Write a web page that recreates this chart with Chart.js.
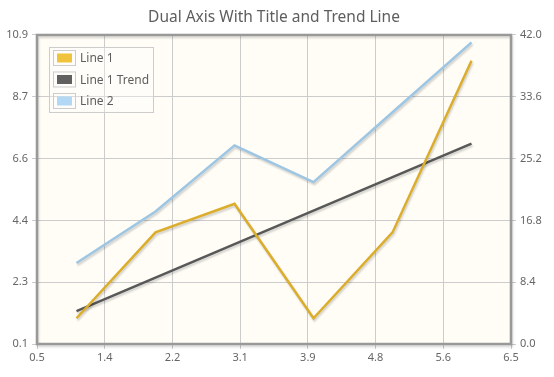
<!DOCTYPE html>
<html>
<head>
<meta charset="utf-8">
<script src="https://cdn.jsdelivr.net/npm/chart.js@4"></script>
<style>
  html, body { margin: 0; padding: 0; background: #fff; }
  #wrap { width: 554px; height: 377px; }
</style>
</head>
<body>
<div id="wrap"><canvas id="c" width="554" height="377"></canvas></div>
<script>
const xValues     = [1, 2, 3, 4, 5, 6]
const line1       = [1, 4, 5, 1, 4, 10]
const line1Trend  = [1.25, 2.42, 3.59, 4.76, 5.93, 7.1]
const line2       = [11, 18, 27, 22, 31.5, 41]

const xTickLabels     = ['0.5', '1.4', '2.2', '3.1', '3.9', '4.8', '5.6', '6.5']
const leftTickLabels  = ['0.1', '2.3', '4.4', '6.6', '8.7', '10.9']
const rightTickLabels = ['0.0', '8.4', '16.8', '25.2', '33.6', '42.0']

const FONT = "'Noto Sans', 'DejaVu Sans', sans-serif"
const GRID = '#cccccc'
const TEXT = '#666666'

const COLORS = {
  line1: { line: '#dcad2a', swatch: '#efc33b' },
  trend: { line: '#585858', swatch: '#606060' },
  line2: { line: '#9cc6e4', swatch: '#b2d8f6' },
}

const toPoints = ys => ys.map((y, i) => ({ x: xValues[i], y }))

// evenly spaced ticks with the labels
function evenTicks(labels) {
  return scale => {
    const n = labels.length
    scale.ticks = labels.map((_, i) => ({ value: scale.min + i * (scale.max - scale.min) / (n - 1) }))
  }
}
const labelAt = labels => (v, i) => labels[i]

const plotStyle = {
  id: 'plotStyle',
  beforeDraw(chart) {
    const { ctx, chartArea: a } = chart
    ctx.save()
    ctx.fillStyle = '#fffdf6'
    ctx.fillRect(a.left, a.top, a.width, a.height)
    ctx.restore()
  },
  beforeDatasetsDraw(chart) {
    const ctx = chart.ctx
    ctx.save()
    ctx.shadowColor = 'rgba(0,0,0,0.18)'
    ctx.shadowOffsetX = 1
    ctx.shadowOffsetY = 2
    ctx.shadowBlur = 2
  },
  afterDatasetsDraw(chart) {
    chart.ctx.restore()
  },
  afterDraw(chart) {
    const { ctx, chartArea: a } = chart
    // frame
    ctx.save()
    ctx.shadowColor = 'rgba(0,0,0,0.15)'
    ctx.shadowOffsetX = 1
    ctx.shadowOffsetY = 2
    ctx.shadowBlur = 2
    ctx.strokeStyle = '#999999'
    ctx.lineWidth = 2.5
    ctx.strokeRect(a.left, a.top, a.width, a.height)
    ctx.restore()

    // legend box
    const lx = a.left + 12, ly = a.top + 12, lw = 104, lh = 65
    ctx.save()
    ctx.fillStyle = 'rgba(255,255,255,0.3)'
    ctx.fillRect(lx, ly, lw, lh)
    ctx.strokeStyle = GRID
    ctx.lineWidth = 1
    ctx.strokeRect(lx + 0.5, ly + 0.5, lw, lh)
    ctx.font = '12px ' + FONT
    ctx.textBaseline = 'middle'
    chart.data.datasets.forEach((ds, i) => {
      const cy = ly + 11 + i * 21.5
      ctx.strokeStyle = GRID
      ctx.strokeRect(lx + 4.5, cy - 7.5, 22, 15)
      ctx.fillStyle = ds.swatch
      ctx.fillRect(lx + 8, cy - 4.5, 15, 9)
      ctx.fillStyle = '#5e5e5e'
      ctx.fillText(ds.label, lx + 31, cy + 1)
    })
    ctx.restore()
  }
}

const ds = (label, ys, c, axis) => ({
  label,
  data: toPoints(ys),
  yAxisID: axis,
  borderColor: c.line,
  swatch: c.swatch,
  borderWidth: 2.5,
  pointRadius: 0,
  tension: 0,
  fill: false,
})

new Chart(document.getElementById('c'), {
  type: 'line',
  data: {
    datasets: [
      ds('Line 1', line1, COLORS.line1, 'y'),
      ds('Line 1 Trend', line1Trend, COLORS.trend, 'y'),
      ds('Line 2', line2, COLORS.line2, 'y2'),
    ],
  },
  options: {
    responsive: false,
    animation: false,
    layout: { padding: 0 },
    plugins: {
      legend: { display: false },
      tooltip: { enabled: false },
      title: {
        display: true,
        fullSize: false,
        text: 'Dual Axis With Title and Trend Line',
        color: '#5e5e5e',
        font: { family: FONT, size: 15.5, weight: 'normal', lineHeight: 1.16 },
        padding: { top: 9, bottom: 8 },
      },
    },
    scales: {
      x: {
        type: 'linear',
        min: 0.5,
        max: 6.5,
        afterBuildTicks: evenTicks(xTickLabels),
        afterFit: s => { s.height = 33 },
        ticks: { callback: labelAt(xTickLabels), color: TEXT, font: { family: FONT, size: 11 }, padding: 2, maxRotation: 0, autoSkip: false },
        grid: { color: GRID, tickLength: 5 },
        border: { display: false },
      },
      y: {
        position: 'left',
        min: 0.1,
        max: 10.9,
        afterBuildTicks: evenTicks(leftTickLabels),
        afterFit: s => { s.width = 37 },
        ticks: { callback: labelAt(leftTickLabels), color: TEXT, font: { family: FONT, size: 11 }, padding: 4, autoSkip: false },
        grid: { color: GRID, tickLength: 5 },
        border: { display: false },
      },
      y2: {
        position: 'right',
        min: 0,
        max: 42,
        afterBuildTicks: evenTicks(rightTickLabels),
        afterFit: s => { s.width = 43 },
        ticks: { callback: labelAt(rightTickLabels), color: TEXT, font: { family: FONT, size: 11 }, padding: 4, autoSkip: false },
        grid: { drawOnChartArea: false, color: GRID, tickLength: 5 },
        border: { display: false },
      },
    },
  },
  plugins: [plotStyle],
})
</script>
</body>
</html>
